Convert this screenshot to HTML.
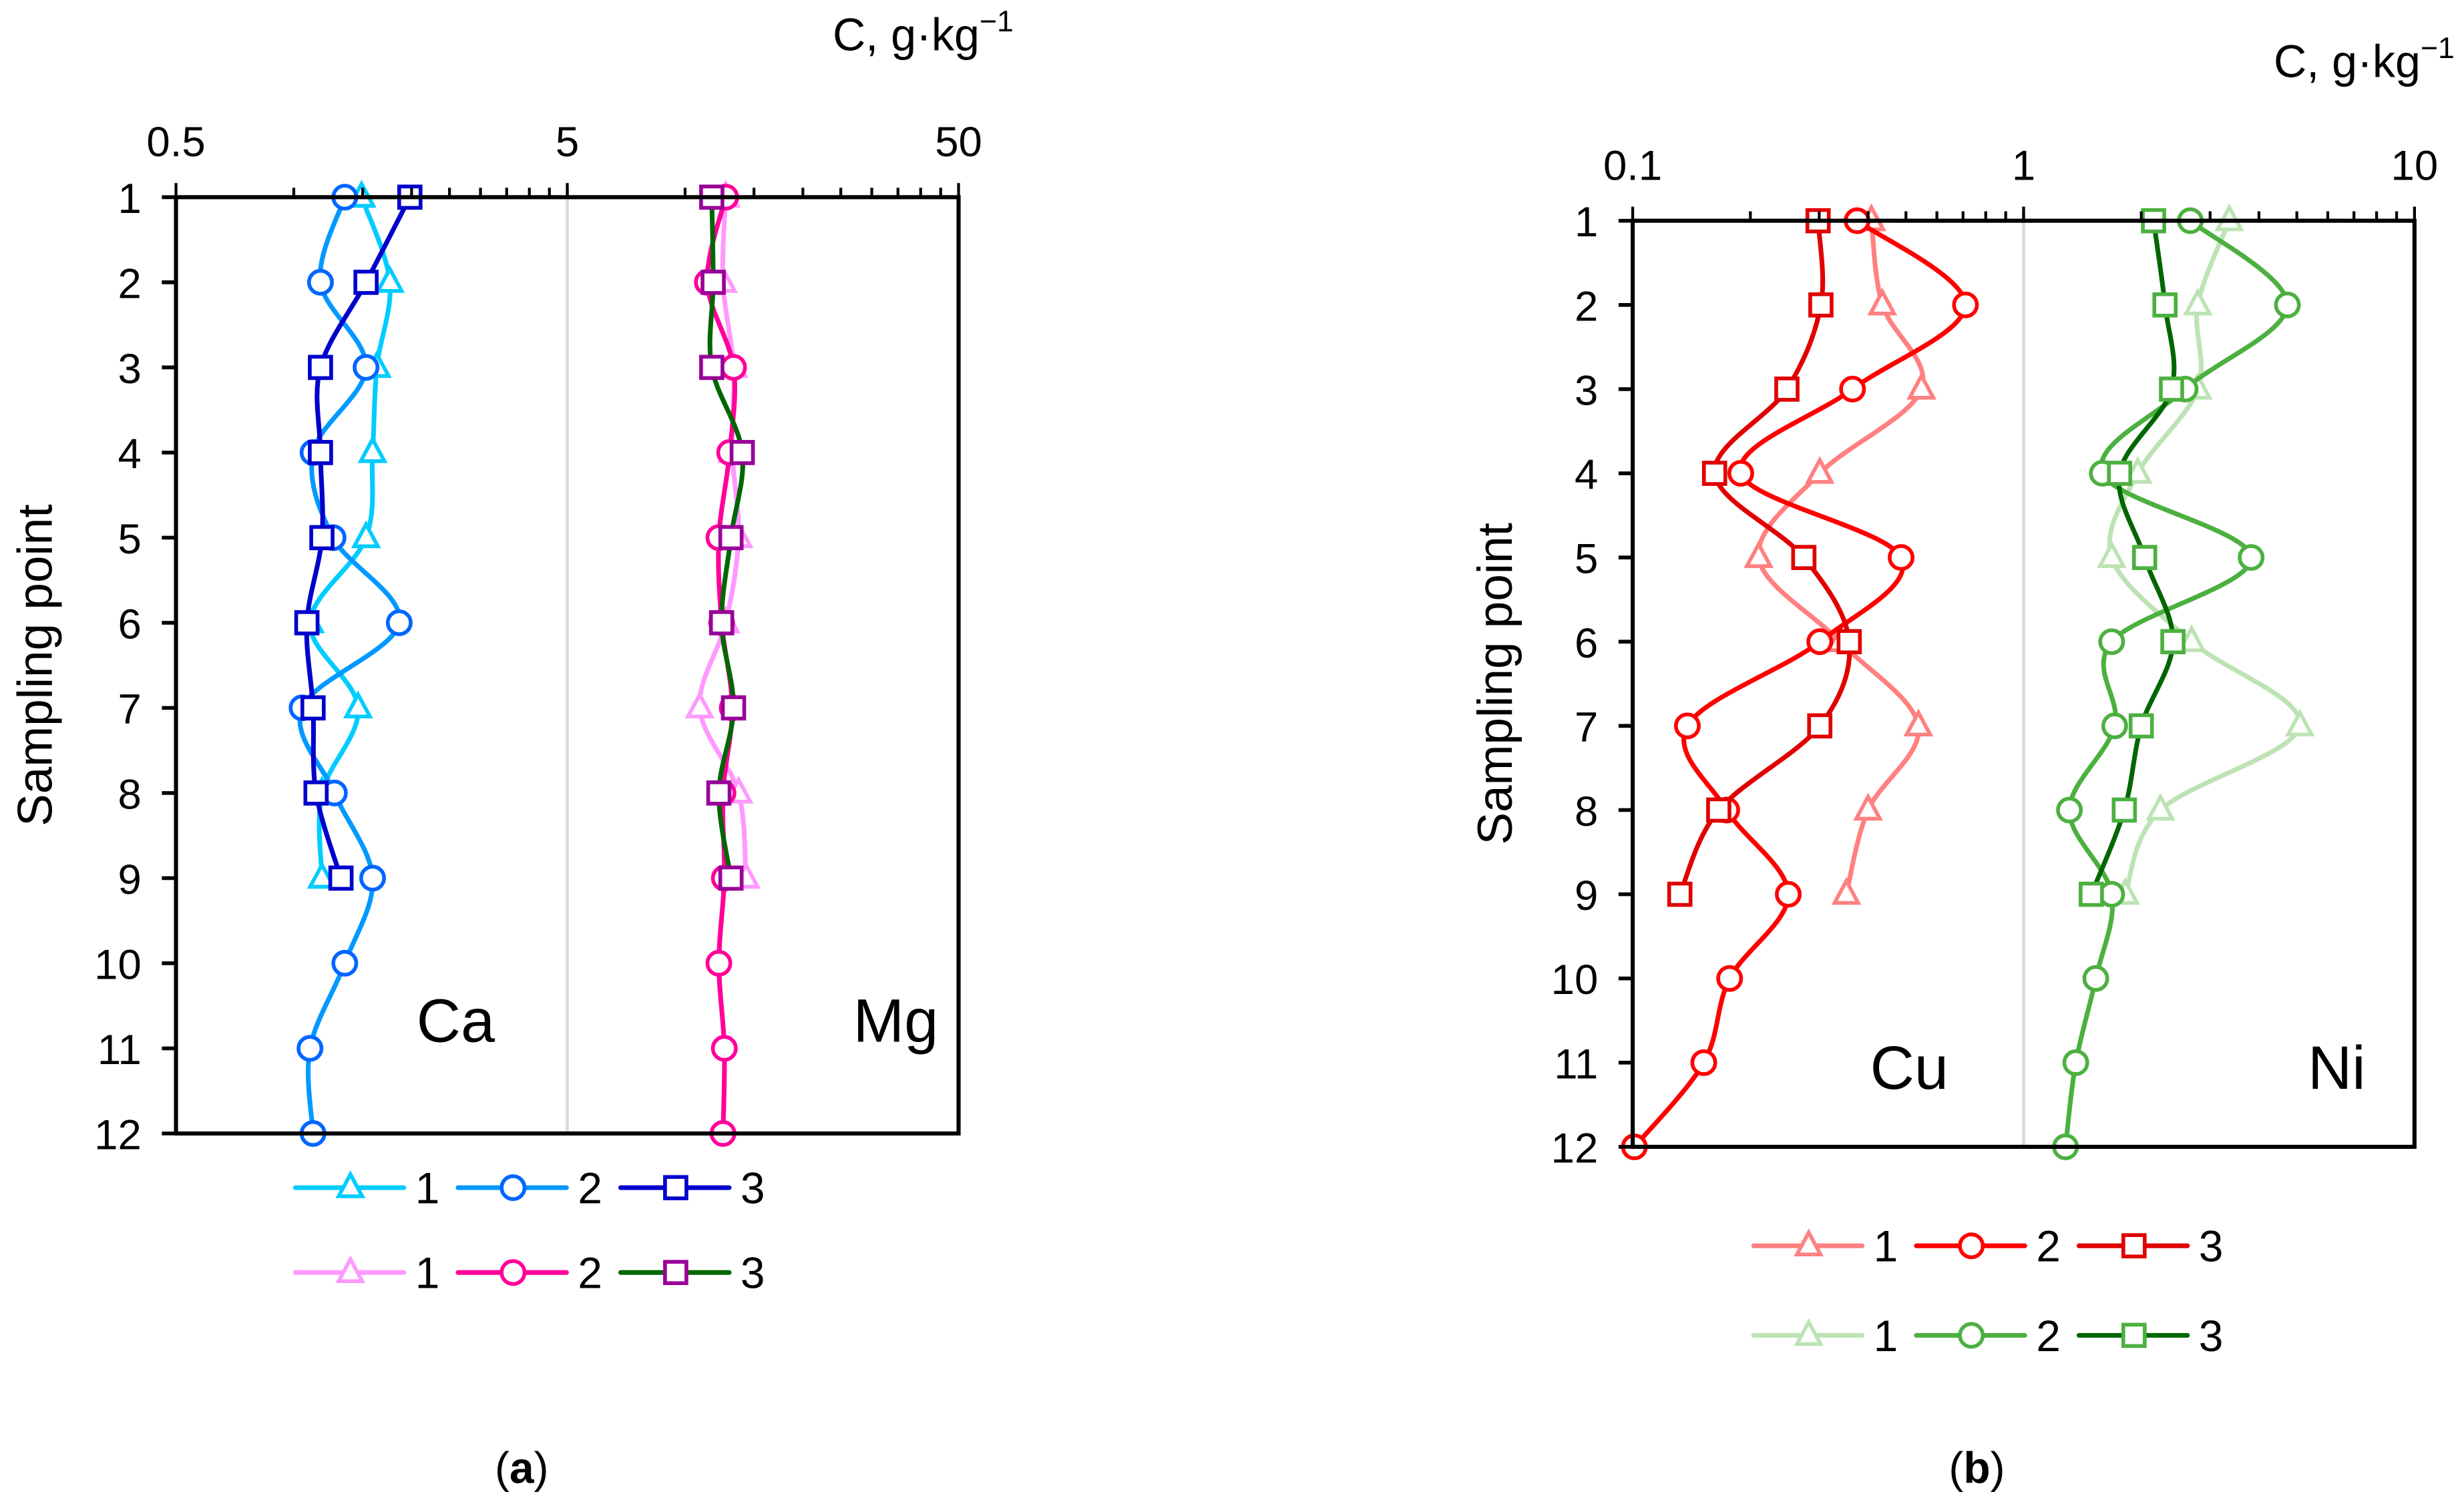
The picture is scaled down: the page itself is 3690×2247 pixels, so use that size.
<!DOCTYPE html>
<html><head><meta charset="utf-8">
<style>
html,body{margin:0;padding:0;background:#fff;}
svg{display:block;}
text{font-family:"Liberation Sans",Arial,sans-serif;fill:#000;}
</style></head>
<body>
<svg id="chart" width="3690" height="2247" viewBox="0 0 1568 954.8" xmlns="http://www.w3.org/2000/svg">
<rect width="1568" height="954.8" fill="#fff"/>
</svg>
<script>
const rows = [1,2,3,4,5,6,7,8,9,10,11,12];
const caS1 = [1.49,1.76,1.63,1.59,1.53,1.10,1.46,1.18,1.18];
const caS2 = [1.35,1.17,1.53,1.12,1.26,1.86,1.05,1.27,1.59,1.35,1.10,1.12];
const caS3 = [1.98,1.53,1.17,1.17,1.18,1.08,1.12,1.14,1.32];
const mgS1 = [12.7,12.5,13.3,13.2,13.7,12.7,10.9,13.7,14.3];
const mgS2 = [12.7,11.4,13.3,13.0,12.2,12.4,13.2,12.5,12.6,12.2,12.6,12.5];
const mgS3 = [11.7,11.8,11.7,14.0,13.1,12.4,13.3,12.2,13.1];
const cuS1 = [0.408,0.435,0.548,0.301,0.210,0.339,0.538,0.400,0.352];
const cuS2 = [0.375,0.710,0.365,0.189,0.486,0.301,0.138,0.174,0.250,0.177,0.152,0.101];
const cuS3 = [0.298,0.303,0.248,0.162,0.274,0.358,0.301,0.166,0.132];
const niS1 = [3.36,2.79,2.79,1.96,1.68,2.69,5.09,2.24,1.82];
const niS2 = [2.67,4.73,2.59,1.59,3.82,1.68,1.71,1.31,1.68,1.53,1.36,1.28];
const niS3 = [2.15,2.30,2.39,1.76,2.04,2.41,2.00,1.81,1.49];
const ticksA = ["0.5","5","50"];
const ticksB = ["0.1","1","10"];

const NS="http://www.w3.org/2000/svg";
const svg=document.getElementById('chart');
function el(tag,attrs,parent){const e=document.createElementNS(NS,tag);for(const k in attrs)e.setAttribute(k,attrs[k]);(parent||svg).appendChild(e);return e;}
function txt(s,attrs,parent){const t=el('text',attrs,parent);t.textContent=s;return t;}

function smoothPath(pts){
  let d=`M${pts[0][0]},${pts[0][1]}`;
  for(let i=0;i<pts.length-1;i++){
    const p0=pts[i-1]||pts[i],p1=pts[i],p2=pts[i+1],p3=pts[i+2]||p2;
    const t=1/6;
    d+=` C${p1[0]+(p2[0]-p0[0])*t},${p1[1]+(p2[1]-p0[1])*t} ${p2[0]-(p3[0]-p1[0])*t},${p2[1]-(p3[1]-p1[1])*t} ${p2[0]},${p2[1]}`;
  }
  return d;
}
function marker(g,type,x,y,color){
  let m;
  if(type==='tri') m=el('path',{d:`M${x},${y-8.5} L${x+7.5},${y+5.5} L${x-7.5},${y+5.5} Z`,fill:'#fff',stroke:color,'stroke-width':2.4},g);
  else if(type==='circ') m=el('ellipse',{cx:x,cy:y,rx:7.3,ry:7.3,fill:'#fff',stroke:color,'stroke-width':2.4},g);
  else m=el('rect',{x:x-6.8,y:y-6.8,width:13.6,height:13.6,fill:'#fff',stroke:color,'stroke-width':2.4},g);
  return m;
}

function panel(cfg){
  const g=el('g',{});
  
  
  const {L,R,T,B,vmin,decades}=cfg;
  const xs=v=>L+(Math.log10(v/vmin)/decades)*(R-L);
  const ys=r=>T+(r-1)*(B-T)/11;
  const gl=el('line',{x1:xs(vmin*10),x2:xs(vmin*10),y1:T,y2:B,stroke:'#d9d9d9','stroke-width':2},g);
  
  
  cfg.series.forEach(s=>{
    const sg=el('g',{},g);
    
    
    const pts=s.vals.map((v,i)=>[xs(v),ys(rows[i])]);
    el('path',{d:smoothPath(pts),fill:'none',stroke:s.line,'stroke-width':3},sg);
    pts.forEach(p=>{const m=marker(sg,s.mk,p[0],p[1],s.edge);
      
      });
  });
  const fr=el('rect',{x:L,y:T,width:R-L,height:B-T,fill:'none',stroke:'#000','stroke-width':2.6},g);
  
  
  for(let d=0;d<decades;d++){
    for(let k=1;k<=10;k++){
      const v=vmin*Math.pow(10,d)*k;
      if(d===decades-1&&k===10)continue;
      const x=xs(v);
      el('line',{x1:x,x2:x,y1:T,y2:T-(k===1?9:6),stroke:'#000','stroke-width':1.8},g);
    }
  }
  el('line',{x1:R,x2:R,y1:T,y2:T-9,stroke:'#000','stroke-width':1.8},g);
  cfg.ticks.forEach((s,i)=>{
    const t=txt(s,{x:xs(vmin*Math.pow(10,i)),y:T-26,'font-size':27,'text-anchor':'middle'},g);
    
    
  });
  rows.forEach(r=>{
    el('line',{x1:L-9,x2:L,y1:ys(r),y2:ys(r),stroke:'#000','stroke-width':2.4},g);
    const t=txt(String(r),{x:L-22,y:ys(r)+10,'font-size':27,'text-anchor':'end'},g);
    
    
  });
  const yt=txt('Sampling point',{x:0,y:0,'font-size':31,'text-anchor':'middle',transform:`translate(${cfg.ytx},${(T+B)/2}) rotate(-90)`},g);
  
  
  const xt=el('text',{x:cfg.xtx,y:cfg.xty,'font-size':29,'text-anchor':'end'},g);
  xt.innerHTML='C, g·kg<tspan font-size="19" dy="-12">−1</tspan>';
  
  
  cfg.labels.forEach(l=>{
    const t=txt(l[0],{x:l[1],y:l[2],'font-size':39,'text-anchor':'middle'},g);
    
    
  });
  cfg.legend.forEach((row,ri)=>{
    row.forEach((s,si)=>{
      const lg=el('g',{},g);
      
      
      const x0=cfg.legX+si*103.5, y=cfg.legY+ri*cfg.legDy;
      el('line',{x1:x0,x2:x0+69,y1:y,y2:y,stroke:s.line,'stroke-width':3,'stroke-linecap':'round'},lg);
      marker(lg,s.mk,x0+35,y,s.edge);
      txt(String(si+1),{x:x0+84,y:y+10,'font-size':28,'text-anchor':'middle'},lg);
    });
  });
  const cap=el('text',{x:cfg.capX,y:944,'font-size':28,'text-anchor':'middle','font-family':'Liberation Serif, serif'},g);
  cap.innerHTML='(<tspan font-weight="bold">'+cfg.cap+'</tspan>)';
  
  
}

const ca1={name:'ca-series-1',vals:caS1,line:'#00ccff',edge:'#00ccff',mk:'tri'};
const ca2={name:'ca-series-2',vals:caS2,line:'#0099ff',edge:'#0066ff',mk:'circ'};
const ca3={name:'ca-series-3',vals:caS3,line:'#0000cc',edge:'#0000cc',mk:'sq'};
const mg1={name:'mg-series-1',vals:mgS1,line:'#ff99ff',edge:'#ff99ff',mk:'tri'};
const mg2={name:'mg-series-2',vals:mgS2,line:'#ff0099',edge:'#ff0099',mk:'circ'};
const mg3={name:'mg-series-3',vals:mgS3,line:'#006600',edge:'#990099',mk:'sq'};
panel({name:'panel-a',L:112,R:610,T:125.5,B:721.5,vmin:0.5,decades:2,ticks:ticksA,
  series:[ca1,ca2,ca3,mg1,mg2,mg3],ytx:33,xtx:645,xty:32,
  labels:[['Ca',290,663],['Mg',570,663]],legend:[[ca1,ca2,ca3],[mg1,mg2,mg3]],
  legX:188,legY:756,legDy:54,capX:332,cap:'a'});

const cu1={name:'cu-series-1',vals:cuS1,line:'#ff8080',edge:'#ff8080',mk:'tri'};
const cu2={name:'cu-series-2',vals:cuS2,line:'#ff0000',edge:'#ff0000',mk:'circ'};
const cu3={name:'cu-series-3',vals:cuS3,line:'#e00000',edge:'#e00000',mk:'sq'};
const ni1={name:'ni-series-1',vals:niS1,line:'#bde3b5',edge:'#bde3b5',mk:'tri'};
const ni2={name:'ni-series-2',vals:niS2,line:'#4cb040',edge:'#4cb040',mk:'circ'};
const ni3={name:'ni-series-3',vals:niS3,line:'#006600',edge:'#4cb040',mk:'sq'};
panel({name:'panel-b',L:1039,R:1536.5,T:140.5,B:730,vmin:0.1,decades:2,ticks:ticksB,
  series:[cu1,cu2,cu3,ni1,ni2,ni3],ytx:962,xty:49,xtx:1562,
  labels:[['Cu',1215,693],['Ni',1487,693]],legend:[[cu1,cu2,cu3],[ni1,ni2,ni3]],
  legX:1116,legY:793,legDy:57,capX:1258,cap:'b'});
</script>
</body></html>
